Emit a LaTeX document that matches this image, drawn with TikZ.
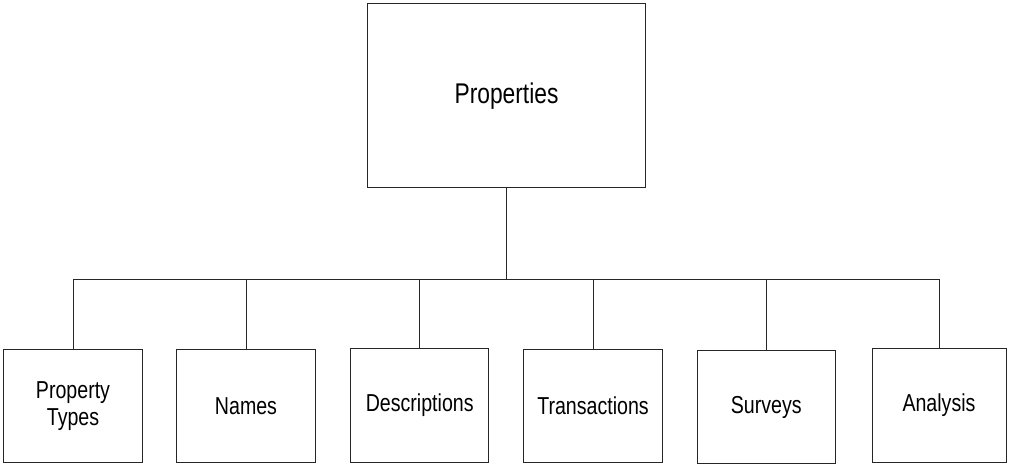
\documentclass[tikz,border=0pt]{standalone}
\usepackage{fontspec}
\setmainfont{Liberation Sans}
\newfontfamily\boxfont[FakeStretch=0.8]{Liberation Sans}
\tikzset{
  topbox/.style={draw=black!85,line width=1pt,inner sep=0pt,minimum width=277.6pt,minimum height=184pt,font=\boxfont\fontsize{28.5}{34}\selectfont},
  leafbox/.style={draw=black!85,line width=1pt,inner sep=0pt,minimum width=138.6pt,minimum height=113pt,align=center,font=\boxfont\fontsize{24.5}{26.7}\selectfont},
  branch/.style={draw=black!85,line width=1pt}
}
\begin{document}
\begin{tikzpicture}[x=1pt,y=-1pt]
\useasboundingbox (0,0) rectangle (1009,464);
% root
\node[topbox] (props) at (506.5,95.7) {Properties};
\coordinate (bus) at (506.5,279.3);
% leaves
\node[leafbox,minimum width=139.4pt] (ptypes) at (73,405.8) {Property\\Types};
\node[leafbox] (names) at (246,405.8) {Names};
\node[leafbox,minimum width=138pt,minimum height=113.6pt] (descr) at (419.7,405.5) {Descriptions};
\node[leafbox] (trans) at (593,406) {Transactions};
\node[leafbox,minimum width=138.3pt,minimum height=113.4pt] (surv) at (766.2,407) {Surveys};
\node[leafbox,minimum width=134pt,minimum height=113.6pt] (anal) at (939,405.5) {Analysis};
% connectors
\draw[branch] (props.south) -- (bus);
\foreach \leaf in {ptypes,names,descr,trans,surv,anal}
  \draw[branch] (\leaf.north) |- (bus);
\end{tikzpicture}
\end{document}
